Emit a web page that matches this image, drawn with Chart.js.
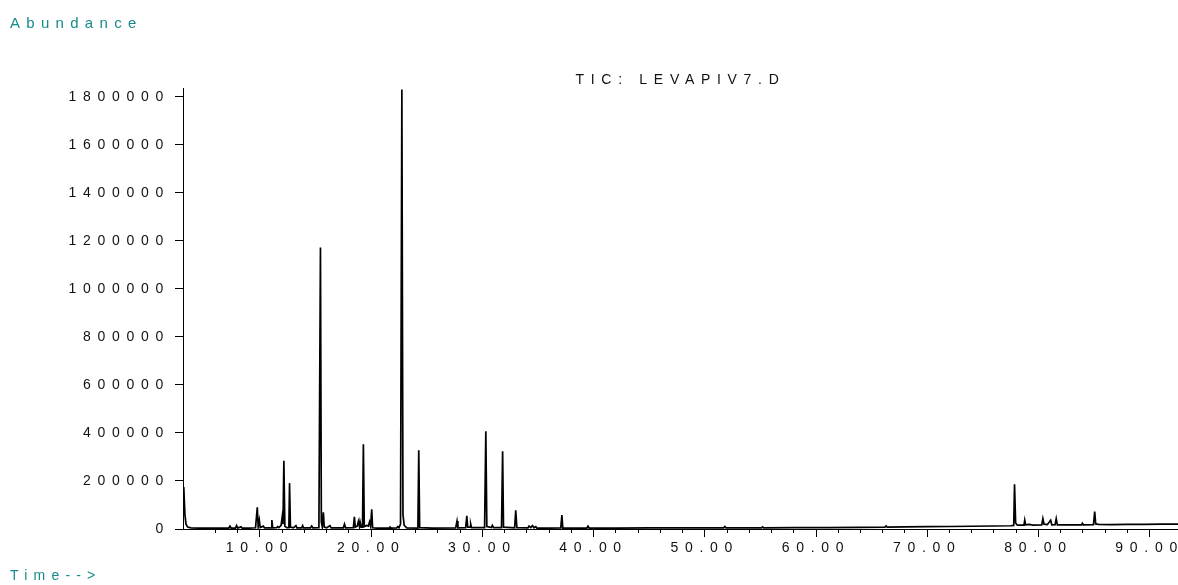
<!DOCTYPE html>
<html>
<head>
<meta charset="utf-8">
<script src="https://cdn.jsdelivr.net/npm/chart.js@4.4.1/dist/chart.umd.min.js"></script>
<style>
  body { margin: 0; background: #fff; }
  #wrap { position: relative; width: 1178px; height: 585px; }
  .side { position: absolute; left: 10px; color: #178b8b; font-family: "Liberation Sans", Arial, sans-serif; white-space: nowrap; }
  #abund { top: 15px; font-size: 15px; line-height: 15px; letter-spacing: 6.3px; }
  #time { top: 568px; font-size: 14px; line-height: 14px; letter-spacing: 6.2px; }
</style>
</head>
<body>
<div id="wrap">
  <canvas id="tic" width="1178" height="585"></canvas>
  <div class="side" id="abund">Abundance</div>
  <div class="side" id="time">Time--&gt;</div>
</div>
<script>
// retention time (min) and total ion current
const times = [
  3.08, 3.15, 3.25, 3.35, 3.5, 3.8, 4.5, 5.5, 6.5, 7.2, 7.3, 7.4, 7.8, 7.9, 8.0, 8.3, 8.4, 9.0, 9.6,
  9.76, 9.84, 9.94, 10.02, 10.3, 10.4, 11.0, 11.07, 11.14, 11.5, 11.6, 11.7, 11.9, 12.0, 12.07,
  12.15, 12.24, 12.4, 12.6, 12.66, 12.74, 13.0, 13.24, 13.32, 13.75, 13.84, 13.92, 14.55, 14.65, 14.75,
  15.3, 15.44, 15.52, 15.6, 15.7, 15.78, 16.0, 16.3, 16.4, 17.5, 17.6, 17.7, 18.4, 18.49, 18.57,
  18.75, 18.85, 18.95, 19.0, 19.1, 19.22, 19.3, 19.38, 19.6, 19.75, 19.85, 19.95, 20.05, 20.13, 20.5,
  21.65, 21.7, 21.75, 22.3, 22.4, 22.5, 22.64, 22.76, 22.86, 22.97, 23.2, 24.2, 24.28, 24.36, 25.5,
  27.6, 27.72, 27.8, 28.5, 28.6, 28.68, 28.9, 28.95, 29.02, 30.2, 30.31, 30.4, 30.8, 30.9, 31.0,
  31.72, 31.82, 31.9, 32.9, 33.0, 33.1, 34.1, 34.2, 34.35, 34.5, 34.65, 34.8, 34.9, 36.0, 37.05,
  37.15, 37.23, 39.4, 39.5, 39.6, 42.0, 45.0, 48.0, 51.7, 51.8, 51.9, 55.1, 55.2, 55.3, 58.0, 61.0,
  64.0, 66.2, 66.3, 66.4, 68.0, 70.0, 72.0, 74.0, 76.0, 77.5, 77.78, 77.85, 77.95, 78.1, 78.7,
  78.77, 78.85, 79.2, 79.5, 80.3, 80.4, 80.5, 80.8, 81.1, 81.2, 81.5, 81.6, 81.7, 82.5, 83.9, 83.95,
  84.05, 84.95, 85.06, 85.15, 85.4, 86.5, 88.0, 89.5, 91.0, 92.55
];
const abundance = [
  170000, 175000, 60000, 20000, 8000, 5000, 4000, 4000, 3500, 4000, 12000, 4000, 4000, 14000, 4000, 9000, 4000, 4000, 5000,
  90000, 10000, 37000, 6000, 12000, 5000, 5000, 37000, 5000, 6000, 10000, 6000, 15000, 50000, 20000,
  284000, 12000, 6000, 6000, 191000, 8000, 5000, 14000, 5000, 5000, 14000, 5000, 5000, 12000, 5000,
  6000, 1172000, 30000, 10000, 70000, 8000, 5000, 14000, 5000, 5000, 20000, 5000, 6000, 51000, 8000,
  12000, 32000, 10000, 30000, 8000, 8000, 353000, 10000, 15000, 12000, 30000, 12000, 82000, 5000, 4000,
  4000, 8000, 4000, 5000, 10000, 5000, 20000, 1830000, 60000, 15000, 5000, 4000, 328000, 6000, 4000,
  5000, 33000, 5000, 6000, 55000, 8000, 8000, 20000, 6000, 6000, 407000, 10000, 6000, 15000, 6000,
  6000, 324000, 8000, 5000, 78000, 6000, 5000, 12000, 6000, 14000, 5000, 10000, 4000, 4000, 5000,
  58000, 4000, 4000, 12000, 4000, 4000, 4500, 4500, 5000, 10000, 5000, 5000, 9000, 5000, 5500, 6000,
  7000, 8000, 13000, 8000, 8500, 9500, 10500, 11500, 12500, 13500, 15000, 186000, 25000, 16000, 16000,
  37000, 17000, 19000, 16500, 17000, 43000, 20000, 18000, 37000, 17500, 18000, 43000, 17500, 17500, 17500, 24000,
  17500, 18000, 73000, 21000, 19000, 18500, 19500, 19500, 20000, 20000
];

// major tick values
const yTicks = [0, 200000, 400000, 600000, 800000, 1000000, 1200000, 1400000, 1600000, 1800000];
const xTicks = [10, 20, 30, 40, 50, 60, 70, 80, 90];

const X_MIN = 3.08, X_MAX = 92.55;
const Y_MIN = 0, Y_MAX = 1835000;

const points = times.map((t, i) => ({ x: t, y: abundance[i] }));

// spaced-out lettering like the instrument printout
const spacing = {
  id: 'spacing',
  beforeUpdate(chart) { chart.ctx.letterSpacing = '6.7px'; },
  beforeDraw(chart) { chart.ctx.letterSpacing = '6.7px'; }
};

const onStep = step => scale => {
  scale.ticks = scale.ticks.filter(t => Math.abs(t.value / step - Math.round(t.value / step)) < 1e-6);
};

Chart.defaults.font.family = '"Liberation Sans", Arial, sans-serif';
Chart.defaults.color = '#111';

new Chart(document.getElementById('tic'), {
  type: 'line',
  data: {
    datasets: [{
      data: points,
      borderColor: '#000',
      borderWidth: 1.7,
      pointRadius: 0,
      tension: 0,
      fill: false
    }]
  },
  options: {
    responsive: false,
    animation: false,
    devicePixelRatio: 1,
    parsing: false,
    layout: { padding: { left: 0, right: 0, top: 0, bottom: 0 } },
    plugins: {
      legend: { display: false },
      tooltip: { enabled: false },
      title: {
        display: true,
        text: 'TIC: LEVAPIV7.D',
        fullSize: false,
        color: '#111',
        font: { size: 14, weight: 'normal', lineHeight: 1.2 },
        padding: { top: 71.6, bottom: 0 }
      }
    },
    scales: {
      x: {
        type: 'linear',
        min: X_MIN, max: X_MAX,
        border: { display: true, color: '#000', width: 1 },
        grid: { drawOnChartArea: false, color: '#000', tickLength: 8, tickWidth: 1 },
        ticks: { padding: 3, font: { size: 14 }, color: '#111', callback: v => v.toFixed(2) },
        afterBuildTicks: s => { s.ticks = xTicks.map(v => ({ value: v })); },
        afterFit: s => { s.height = 56; s.paddingLeft = 0; s.paddingRight = 0; }
      },
      xMinor: {
        type: 'linear',
        axis: 'x',
        position: { y: Y_MIN },
        min: X_MIN, max: X_MAX,
        border: { display: false },
        grid: { drawOnChartArea: false, color: '#000', tickLength: 4 },
        ticks: { display: false, stepSize: 2 },
        afterBuildTicks: onStep(2),
        afterFit: s => { s.height = 0; s.paddingLeft = 0; s.paddingRight = 0; }
      },
      y: {
        type: 'linear',
        min: Y_MIN, max: Y_MAX,
        border: { display: true, color: '#000', width: 1 },
        grid: { drawOnChartArea: false, color: '#000', tickLength: 8, tickWidth: 1 },
        ticks: { padding: 5, font: { size: 14 }, color: '#111', callback: v => String(v) },
        afterBuildTicks: s => { s.ticks = yTicks.map(v => ({ value: v })); },
        afterFit: s => { s.width = 183; }
      },
      yMinor: {
        type: 'linear',
        axis: 'y',
        position: { x: X_MIN },
        min: Y_MIN, max: Y_MAX,
        border: { display: false },
        grid: { drawOnChartArea: false, color: '#000', tickLength: 4 },
        ticks: { display: false, stepSize: 40000 },
        afterBuildTicks: onStep(40000),
        afterFit: s => { s.width = 0; }
      }
    }
  },
  plugins: [spacing]
});
</script>
</body>
</html>
